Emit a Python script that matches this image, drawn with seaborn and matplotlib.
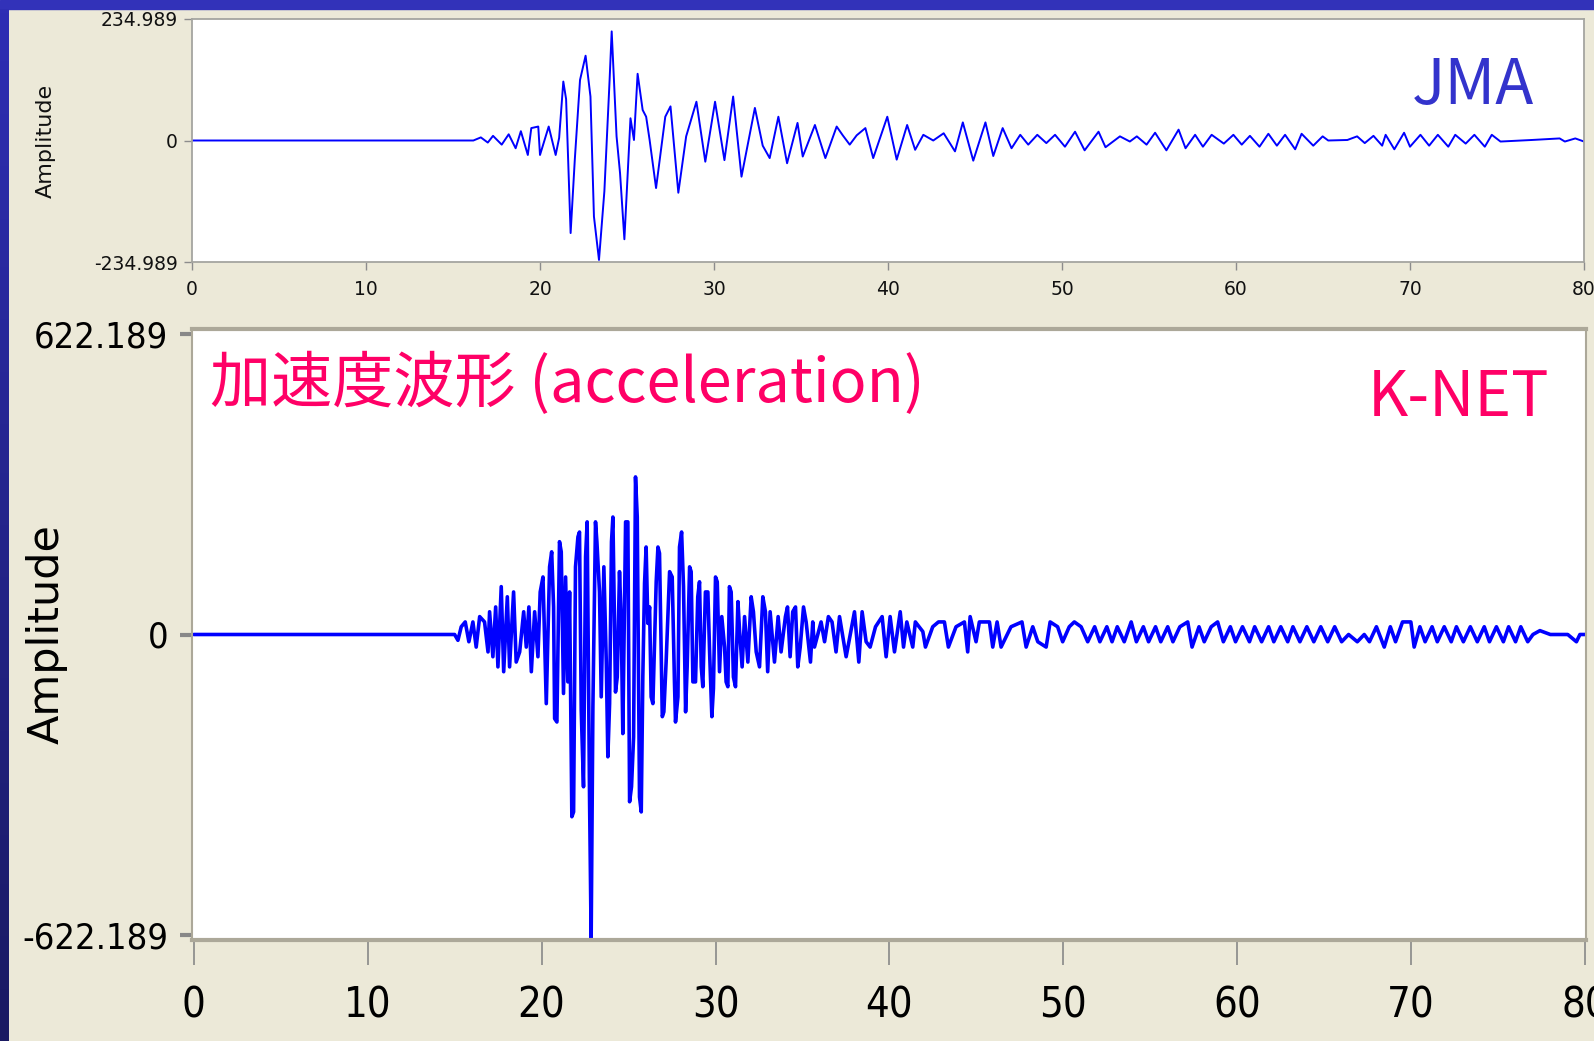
import os
import seaborn as sns
import matplotlib.pyplot as plt
import numpy as np
from matplotlib import font_manager
from matplotlib.patches import Rectangle
from matplotlib.colors import LinearSegmentedColormap

# JMA trace: turning points (time s, amplitude)
jma_t = [0, 16.17, 16.6, 17.0, 17.3, 17.8, 18.2, 18.6, 18.9, 19.3, 19.5, 19.9, 20.0, 20.5, 20.9,
         21.1, 21.34, 21.5, 21.76, 22.0, 22.3, 22.62, 22.9, 23.1, 23.39, 23.7, 24.0, 24.12, 24.4,
         24.6, 24.85, 25.1, 25.2, 25.4, 25.61, 25.9, 26.1, 26.3, 26.67, 27.2, 27.5, 27.95, 28.4,
         28.99, 29.5, 30.06, 30.6, 31.1, 31.58, 32.35, 32.8, 33.2, 33.7, 34.2, 34.8, 35.1, 35.8,
         36.4, 37.05, 37.4, 37.8, 38.2, 38.7, 39.15, 39.96, 40.5, 41.1, 41.56, 42.03, 42.6, 43.2,
         43.85, 44.3, 44.9, 45.6, 46.05, 46.59, 47.1, 47.6, 48.06, 48.58, 49.1, 49.6, 50.17, 50.75,
         51.3, 52.1, 52.5, 53.33, 53.9, 54.3, 54.86, 55.35, 56.0, 56.7, 57.1, 57.65, 58.1, 58.6,
         59.3, 59.85, 60.33, 60.8, 61.35, 61.86, 62.35, 62.82, 63.4, 63.77, 64.44, 64.98, 65.3,
         66.4, 66.96, 67.4, 67.9, 68.4, 68.6, 69.1, 69.66, 70.0, 70.6, 71.1, 71.6, 72.2, 72.6,
         73.2, 73.7, 74.3, 74.7, 75.2, 77.0, 78.6, 78.9, 79.5, 80.0]
jma_v = [0, 0, 6, -4, 9, -8, 12, -15, 18, -28, 24, 27, -28, 27, -28,
         5, 114, 80, -179, -37, 117, 164, 85, -147, -231, -98, 117, 211, 8,
         -63, -191, -25, 43, 1, 129, 59, 46, 1, -92, 46, 66, -101, 8,
         75, -41, 75, -38, 85, -70, 63, -10, -34, 46, -44, 34, -31, 30,
         -34, 27, 10, -8, 10, 24, -34, 46, -37, 30, -18, 11, 0, 14,
         -21, 35, -39, 35, -30, 24, -15, 11, -8, 11, -5, 11, -12, 17,
         -19, 17, -13, 8, -2, 8, -8, 15, -19, 21, -15, 11, -12, 11,
         -6, 11, -8, 9, -12, 13, -10, 11, -17, 13, -10, 8, 0,
         1, 8, -5, 9, -10, 11, -17, 15, -12, 11, -10, 11, -12, 11,
         -6, 11, -12, 11, -2, 1, 4, -2, 4, -2]

# K-NET acceleration: spikes (time s, gal)
knet_t = [0, 15.0, 15.19, 15.38, 15.61, 15.82, 16.05, 16.24, 16.44, 16.72, 16.92, 17.01, 17.2,
          17.36, 17.49, 17.68, 17.82, 18.03, 18.16, 18.39, 18.54, 18.74, 18.97, 19.12, 19.27,
          19.41, 19.6, 19.79, 19.92, 20.08, 20.27, 20.46, 20.58, 20.69, 20.75, 20.88, 21.03,
          21.13, 21.26, 21.38, 21.51, 21.61, 21.74, 21.84, 21.95, 22.09, 22.18, 22.28, 22.41,
          22.53, 22.62, 22.76, 22.85, 22.95, 23.1, 23.18, 23.33, 23.43, 23.58, 23.72, 23.81,
          23.91, 24.02, 24.1, 24.25, 24.35, 24.48, 24.58, 24.67, 24.83, 24.96, 25.06, 25.17,
          25.29, 25.4, 25.5, 25.63, 25.73, 25.82, 25.92, 26.01, 26.11, 26.21, 26.3, 26.4,
          26.59, 26.69, 26.78, 26.94, 27.03, 27.16, 27.36, 27.51, 27.64, 27.7, 27.84, 27.93,
          28.05, 28.16, 28.28, 28.37, 28.51, 28.6, 28.7, 28.85, 28.98, 29.08, 29.18, 29.27,
          29.42, 29.56, 29.66, 29.79, 29.88, 30.0, 30.1, 30.23, 30.36, 30.52, 30.61, 30.71,
          30.8, 30.9, 31.03, 31.15, 31.29, 31.38, 31.53, 31.67, 31.86, 32.05, 32.18, 32.34,
          32.53, 32.72, 32.87, 33.0, 33.14, 33.39, 33.6, 33.77, 34.02, 34.14, 34.29, 34.44,
          34.6, 34.73, 34.87, 35.06, 35.21, 35.46, 35.59, 35.69, 36.07, 36.27, 36.49, 36.7,
          36.93, 37.13, 37.51, 37.99, 38.24, 38.43, 38.66, 38.89, 39.2, 39.58, 39.81, 40.04,
          40.29, 40.62, 40.81, 41.0, 41.34, 41.49, 41.92, 42.07, 42.49, 42.82, 43.16, 43.39,
          43.83, 44.31, 44.5, 44.64, 44.98, 45.17, 45.75, 45.94, 46.19, 46.42, 46.99, 47.62,
          47.86, 48.24, 48.53, 49.01, 49.24, 49.67, 49.96, 50.34, 50.63, 51.02, 51.4,
          51.8, 52.1, 52.5, 52.8, 53.1, 53.5, 53.9, 54.2, 54.6, 54.9, 55.3, 55.6, 56.0, 56.3,
          56.7, 57.15, 57.4, 57.8, 58.1, 58.5, 58.87, 59.2, 59.6, 59.9, 60.3, 60.7, 61.0, 61.4,
          61.8, 62.1, 62.5, 62.9, 63.2, 63.6, 64.0, 64.4, 64.8, 65.2, 65.6, 66.0, 66.4, 66.9,
          67.3, 67.6, 68.0, 68.45, 68.8, 69.1, 69.5, 69.98, 70.17, 70.5, 70.8, 71.2, 71.5, 71.9,
          72.3, 72.6, 73.0, 73.4, 73.8, 74.2, 74.5, 74.9, 75.3, 75.6, 76.0, 76.3, 76.7, 77.0,
          77.4, 78.0, 79.0, 79.5, 79.7, 80.0]
knet_v = [0, 0, -12, 16, 26, -15, 26, -26, 37, 26, -36, 47, -46,
          57, -67, 99, -77, 78, -67, 88, -57, -36, 47, -26, 57,
          -77, 47, -46, 88, 119, -143, 140, 171, 57, -174, -181, 192,
          171, -122, 119, -98, 88, -377, -367, 140, 202, 212, -157, -315,
          161, 233, -346, -630, -150, 233, 192, 88, -129, 140, -57, -253,
          -143, 192, 243, -119, -88, 130, 26, -205, 233, 233, -346, -315,
          -212, 326, 243, -336, -367, -88, 106, 181, 23, 57, -129, -143,
          109, 181, 168, -170, -160, -57, 130, 119, -98, -181, -129, 181,
          212, 99, -160, -67, 140, 130, -98, -98, 78, 109, -67, -108,
          88, 88, -36, -170, -112, 119, 109, -77, 37, -26, -98, -108,
          99, 88, -88, -108, 68, 9, -67, 37, -57, 78, 47, -36,
          -67, 78, 47, -77, 47, -57, 37, -36, 37, 57, -46, 47,
          57, -67, -26, 57, 26, -57, 26, -26, 26, -15, 37, 26,
          -36, 37, -46, 47, -57, 47, -15, -26, 16, 37, -46, 37,
          -36, 47, -26, 26, -26, 26, 6, -26, 16, 26, 26, -26,
          16, 26, -36, 37, -15, 26, 26, -26, 26, -26, 16, 26,
          -26, 16, -15, -26, 26, 16, -15, 16, 26, 16, -15,
          16, -15, 16, -15, 16, -15, 26, -15, 16, -15, 16, -15, 16, -15,
          16, 26, -26, 16, -15, 16, 26, -15, 16, -15, 16, -15, 16, -15,
          16, -15, 16, -15, 16, -15, 16, -15, 16, -15, 16, -15, 0, -15,
          0, -15, 16, -26, 16, -15, 26, 26, -26, 16, -15, 16, -15, 16,
          -15, 16, -15, 16, -15, 16, -15, 16, -15, 16, -15, 16, -15, 0,
          8, 0, 0, -15, 0, 0]

x_ticks = [0, 10, 20, 30, 40, 50, 60, 70, 80]
jma_max = 234.989
knet_max = 622.189

W, H = 1594, 1041
sns.set_style("white")
plt.rcParams["font.family"] = ["DejaVu Sans"]
jp = ["Noto Sans CJK JP", "DejaVu Sans"]

# the lower panel uses a squeezed font: take the narrowest one installed
narrow = font_manager.FontProperties(family="DejaVu Sans")
files = {os.path.basename(f.fname): f.fname for f in font_manager.fontManager.ttflist}
for name in ["NotoSans-ExtraCondensed.ttf", "NotoSans-Condensed.ttf",
             "LiberationSansNarrow-Regular.ttf", "DejaVuSansCondensed.ttf"]:
    if name in files:
        narrow = font_manager.FontProperties(fname=files[name])
        break

fig = plt.figure(figsize=(W / 100, H / 100), dpi=100)
fig.patch.set_facecolor("#ece9d8")

# slide border: blue strip on top, gradient bar on the left
fig.add_artist(Rectangle((0, 1 - 9 / H), 1, 9 / H, transform=fig.transFigure,
                         color="#3232b9", zorder=0))
bar = fig.add_axes([0, 0, 9 / W, 1 - 9 / H])
bar.imshow(np.linspace(0, 1, 256).reshape(-1, 1), aspect="auto",
           cmap=LinearSegmentedColormap.from_list("bar", ["#2e2eb4", "#1a1a62"]))
bar.axis("off")

# ---- JMA panel ----
ax1 = fig.add_axes([192 / W, 1 - 262 / H, 1392 / W, 243 / H])
ax1.set_facecolor("white")
sns.lineplot(x=jma_t, y=jma_v, ax=ax1, color="#0000ff", linewidth=1.4,
             estimator=None, sort=False)
ax1.set_xlim(0, 80)
ax1.set_ylim(-jma_max, jma_max)
ax1.set_xticks(x_ticks, [str(t) for t in x_ticks])
ax1.set_yticks([jma_max, 0, -jma_max], ["234.989", "0", "-234.989"])
ax1.tick_params(left=True, bottom=True, length=6, width=1, color="#8c8c8c",
                labelsize=13.5, pad=4, labelcolor="#111111")
ax1.tick_params(axis="x", pad=7)
for s in ax1.spines.values():
    s.set_color("#a5a5a0")
    s.set_linewidth(1.3)
ax1.set_ylabel("Amplitude", fontsize=16, va="center", color="#111111")
ax1.yaxis.set_label_coords(-0.105, 0.5)
ax1.text(1473 / W, 1 - 86 / H, "JMA", transform=fig.transFigure, family=jp,
         fontsize=45, color="#3333cc", ha="center", va="center")

# ---- K-NET panel ----
ax2 = fig.add_axes([192 / W, 1 - 940 / H, 1394 / W, 611 / H])
ax2.set_facecolor("white")
sns.lineplot(x=knet_t, y=knet_v, ax=ax2, color="#0000ff", linewidth=2.6,
             estimator=None, sort=False)
ax2.set_xlim(-0.1, 80.05)
ax2.set_ylim(-632, 632)
ax2.set_yticks([knet_max, 0, -knet_max], ["622.189", "0", "-622.189"])
ax2.set_xticks(x_ticks, [str(t) for t in x_ticks])
ax2.tick_params(axis="y", left=True, length=9, width=3, color="#888888", pad=8)
ax2.tick_params(axis="x", bottom=True, length=18, width=1.2, color="#888888", pad=14)
for lab in ax2.get_xticklabels():
    lab.set_fontproperties(narrow)
    lab.set_fontsize(30)
    lab.set_color("black")
for lab in ax2.get_yticklabels():
    lab.set_fontproperties(narrow)
    lab.set_fontsize(26)
    lab.set_color("black")
for side, s in ax2.spines.items():
    s.set_color("#aca899")
    s.set_linewidth(3 if side in ("top", "bottom") else 1.5)
ax2.set_ylabel("Amplitude", fontsize=31, va="center", color="black")
ax2.yaxis.set_label_coords(-0.104, 0.5)

fig.text(210 / W, 1 - 384 / H, "加速度波形 (acceleration)", family=jp,
         fontsize=44, color="#ff0066", ha="left", va="center")
fig.text(1459 / W, 1 - 398 / H, "K-NET", family=jp,
         fontsize=45, color="#ff0066", ha="center", va="center")

plt.savefig("out.png", dpi=100, facecolor=fig.get_facecolor())
plt.close()
